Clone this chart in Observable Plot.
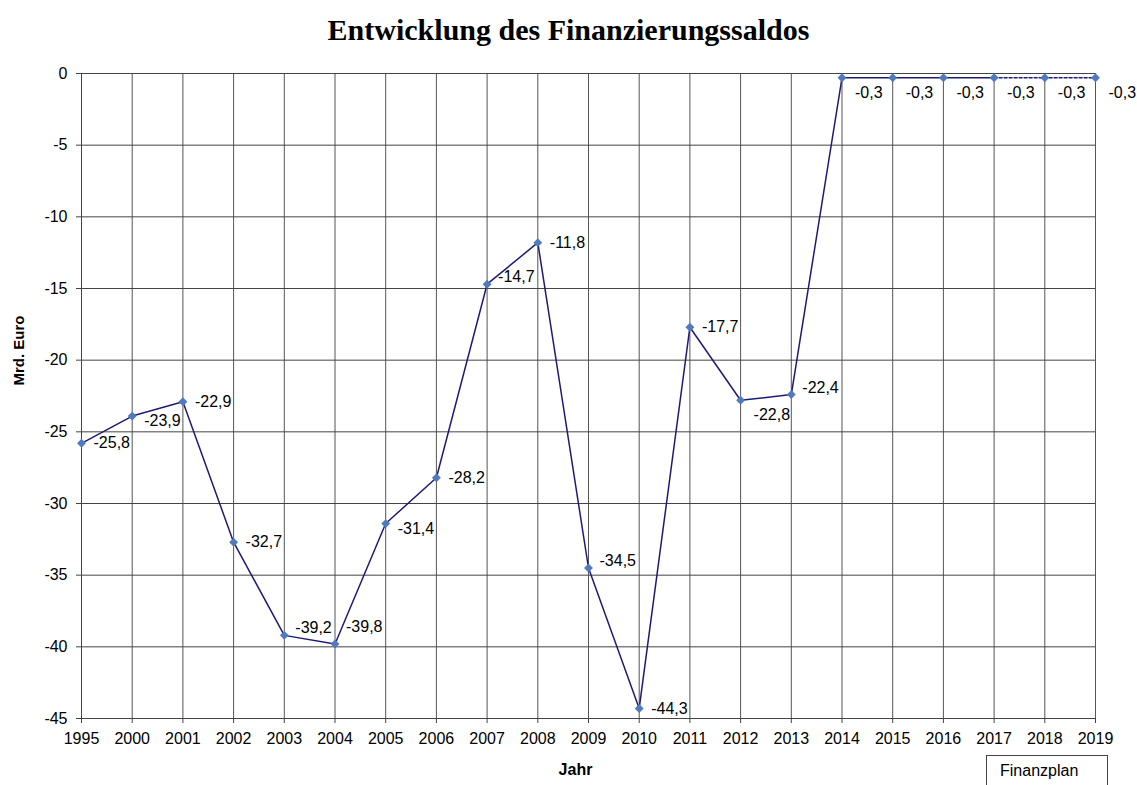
<!DOCTYPE html>
<html>
<head>
<meta charset="utf-8">
<script src="https://cdn.jsdelivr.net/npm/d3@7"></script>
<script src="https://cdn.jsdelivr.net/npm/@observablehq/plot@0.6"></script>
<style>
  html, body { margin: 0; padding: 0; background: #fff; }
  #chart { width: 1137px; height: 785px; overflow: hidden; }
</style>
</head>
<body>
<div id="chart"></div>
<script>
const years = ["1995","2000","2001","2002","2003","2004","2005","2006","2007","2008","2009","2010","2011","2012","2013","2014","2015","2016","2017","2018","2019"];
const saldo = [-25.8,-23.9,-22.9,-32.7,-39.2,-39.8,-31.4,-28.2,-14.7,-11.8,-34.5,-44.3,-17.7,-22.8,-22.4,-0.3,-0.3,-0.3,-0.3,-0.3,-0.3];
const labelPlacement = ["right","downRight","right","right","upRight","above","downRight","right","upRight","right","upRight","right","right","below","upRight","below","below","below","below","below","below"];
const planStart = "2017";
const yTicks = [0,-5,-10,-15,-20,-25,-30,-35,-40,-45];

const data = years.map((y, i) => ({year: y, value: saldo[i], place: labelPlacement[i], i}));
const planIdx = years.indexOf(planStart);
const actual = data.filter(d => d.i <= planIdx);
const plan = data.filter(d => d.i >= planIdx);
const fmt = v => String(v).replace(".", ",");
const placeStyle = {
  right:     {dx: 12, dy: 0},
  upRight:   {dx: 11, dy: -7},
  downRight: {dx: 12, dy: 5},
  above:     {dx: 11, dy: -17},
  below:     {dx: 13, dy: 15}
};

const FONT = "'Liberation Sans', Arial, Helvetica, sans-serif";
const W = 1137, H = 785;
const frameL = 81, frameR = 1095, frameT = 73, frameB = 718;

const chart = Plot.plot({
  width: W,
  height: H,
  marginLeft: frameL,
  marginRight: W - frameR,
  marginTop: frameT,
  marginBottom: H - frameB,
  style: {fontFamily: FONT, fontSize: "16px", color: "#000", background: "#fff", overflow: "visible"},
  x: {type: "point", domain: years, padding: 0, round: false, range: [frameL, frameR], label: null, axis: null},
  y: {domain: [-45, 0], range: [frameB, frameT], label: null, axis: null},
  marks: [
    Plot.gridX(years, {stroke: "#555", strokeOpacity: 1, strokeWidth: 1}),
    Plot.gridY(yTicks, {stroke: "#444", strokeOpacity: 1, strokeWidth: 1}),
    Plot.ruleX([years[0]], {stroke: "#444"}),
    Plot.ruleY([-45], {stroke: "#444"}),
    Plot.axisX(years, {tickSize: 5, tickPadding: 9, fontSize: 16, stroke: "#444", label: null}),
    Plot.axisY(yTicks, {tickSize: 5, tickPadding: 9, fontSize: 16, stroke: "#444", label: null, tickFormat: d => String(d)}),
    Plot.line(actual, {x: "year", y: "value", stroke: "#1f1a75", strokeWidth: 1.5}),
    Plot.line(plan, {x: "year", y: "value", stroke: "#1f1a75", strokeWidth: 1.5, strokeDasharray: "3,2"}),
    Plot.dot(data, {x: "year", y: "value", symbol: "diamond2", r: 4, fill: "#5079be", stroke: "none"}),
    ...Object.keys(placeStyle).map(p =>
      Plot.text(data.filter(d => d.place === p), {
        x: "year", y: "value", text: d => fmt(d.value),
        textAnchor: "start", dx: placeStyle[p].dx, dy: placeStyle[p].dy, fontSize: 16, fill: "#000"
      })
    ),
    Plot.text(["Entwicklung des Finanzierungssaldos"], {frameAnchor: "top", lineAnchor: "middle", dx: -20, dy: -43, fontSize: 30, fontWeight: "bold", fontFamily: "'Liberation Serif', 'Times New Roman', serif", fill: "#000"}),
    Plot.text(["Mrd. Euro"], {frameAnchor: "top-left", textAnchor: "middle", lineAnchor: "middle", dx: -62, dy: 277, rotate: -90, fontSize: 15, fontWeight: "bold", fill: "#000"}),
    Plot.text(["Jahr"], {frameAnchor: "bottom", dx: -13, dy: 56, fontSize: 16, fontWeight: "bold", fill: "#000"})
  ]
});
document.getElementById("chart").appendChild(chart);

// "Finanzplan" box below the last categories
const svg = d3.select(chart);
const g = svg.append("g").attr("text-anchor", "start");
g.append("rect").attr("x", 986.5).attr("y", 755.5).attr("width", 121).attr("height", 40)
  .attr("fill", "#fff").attr("stroke", "#444").attr("stroke-width", 1);
g.append("text").attr("x", 1000).attr("y", 776).attr("font-size", 16)
  .attr("font-family", FONT).attr("fill", "#000").text("Finanzplan");
</script>
</body>
</html>
